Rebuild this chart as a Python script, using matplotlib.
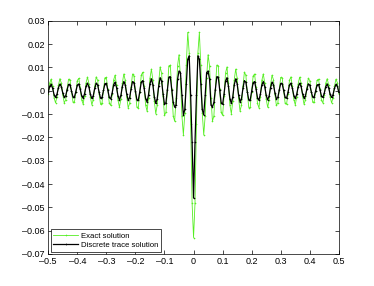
import numpy as np
import matplotlib
matplotlib.use("Agg")
import matplotlib.pyplot as plt

plt.rcParams['font.family'] = ['Liberation Sans', 'DejaVu Sans']

# sample positions
x = np.linspace(-0.5, 0.5, 201)

# values, in units of 1e-5
exact = np.array([
    -126, 343, 500, 196, -292, -515, -265, 233, 521, 330,
    -168, -516, -392, 97, 501, 447, -21, -476, -495, -57,
    439, 536, 137, -393, -567, -218, 337, 588, 298, -272,
    -598, -375, 198, 597, 448, -118, -583, -516, 31, 558,
    576, 61, -520, -628, -156, 470, 671, 254, -407, -703,
    -352, 333, 723, 449, -248, -730, -544, 152, 723, 635,
    -46, -702, -720, -68, 665, 799, 192, -613, -870, -323,
    544, 931, 461, -458, -983, -606, 354, 1023, 760, -230,
    -1052, -924, 84, 1070, 1102, 90, -1078, -1304, -300, 1078,
    1549, 569, -1081, -1890, -949, 1119, 2502, 1638, -1411, -4821,
    -6300,
    -4821, -1411, 1638, 2502, 1119, -949, -1890, -1081, 569, 1549,
    1078, -300, -1304, -1078, 90, 1102, 1070, 84, -924, -1052,
    -230, 760, 1023, 354, -606, -983, -458, 461, 931, 544,
    -323, -870, -613, 192, 799, 665, -68, -720, -702, -46,
    635, 723, 152, -544, -730, -248, 449, 723, 333, -352,
    -703, -407, 254, 671, 470, -156, -628, -520, 61, 576,
    558, 31, -516, -583, -118, 448, 597, 198, -375, -598,
    -272, 298, 588, 337, -218, -567, -393, 137, 536, 439,
    -57, -495, -476, -21, 447, 501, 97, -392, -516, -168,
    330, 521, 233, -265, -515, -292, 196, 500, 343, -126,
]) * 1e-5

discrete = np.array([
    -69, 189, 275, 108, -161, -283, -146, 128, 287, 182,
    -92, -284, -216, 53, 276, 246, -12, -262, -272, -31,
    241, 295, 75, -216, -312, -120, 185, 323, 164, -150,
    -329, -206, 109, 328, 246, -65, -321, -284, 17, 307,
    317, 34, -286, -345, -86, 259, 369, 140, -224, -387,
    -194, 183, 398, 247, -136, -402, -299, 84, 398, 349,
    -25, -386, -396, -37, 366, 439, 106, -337, -479, -178,
    299, 512, 254, -252, -541, -333, 195, 563, 418, -127,
    -579, -508, 46, 589, 606, 50, -500, -700, -600, 500,
    850, 780, -200, -1030, -800, 300, 1350, 1500, -200, -2200,
    -4600,
    -2200, -200, 1500, 1350, 300, -800, -1030, -200, 780, 850,
    500, -600, -700, -500, 50, 606, 589, 46, -508, -579,
    -127, 418, 563, 195, -333, -541, -252, 254, 512, 299,
    -178, -479, -337, 106, 439, 366, -37, -396, -386, -25,
    349, 398, 84, -299, -402, -136, 247, 398, 183, -194,
    -387, -224, 140, 369, 259, -86, -345, -286, 34, 317,
    307, 17, -284, -321, -65, 246, 328, 109, -206, -329,
    -150, 164, 323, 185, -120, -312, -216, 75, 295, 241,
    -31, -272, -262, -12, 246, 276, 53, -216, -284, -92,
    182, 287, 128, -146, -283, -161, 108, 275, 189, -69,
]) * 1e-5

xticks = np.arange(-5, 6) / 10
yticks = np.arange(-7, 4) / 100

fig = plt.figure(figsize=(3.74, 2.86), dpi=100)
ax = fig.add_axes([0.129, 0.112, 0.777, 0.815])

ax.plot(x, exact, color='#55ee22', lw=0.6, marker='+', ms=2, mew=0.4,
        label='Exact solution')
ax.plot(x, discrete, color='black', lw=0.9, marker='+', ms=2, mew=0.4,
        label='Discrete trace solution')

ax.set_xlim(-0.5, 0.5)
ax.set_ylim(-0.07, 0.03)
ax.set_xticks(xticks)
ax.set_yticks(yticks)
ax.set_xticklabels([f"{v:g}".replace('-', '\u2013') for v in xticks])
ax.set_yticklabels([f"{v:g}".replace('-', '\u2013') for v in yticks])
ax.tick_params(direction='in', top=True, right=True, length=3, width=0.5,
               labelsize=6.5, pad=2.5)
for s in ax.spines.values():
    s.set_linewidth(0.5)

leg = ax.legend(loc='lower left', fontsize=5.6, fancybox=False,
                edgecolor='black', framealpha=1, borderaxespad=0.3,
                handlelength=3.2, borderpad=0.35, labelspacing=0.25,
                handletextpad=0.4)
leg.get_frame().set_linewidth(0.5)

fig.savefig("out.png")
